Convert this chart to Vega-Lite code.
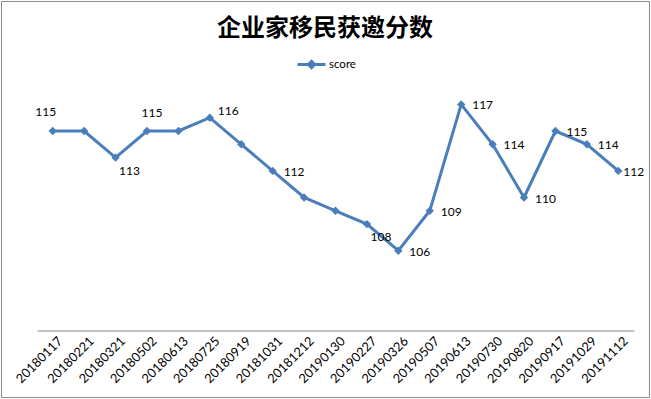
{
  "$schema": "https://vega.github.io/schema/vega-lite/v6.json",
  "autosize": {"type": "none"},
  "padding": {"left": 1, "top": 1, "right": 2, "bottom": 2},
  "width": 648,
  "height": 396,
  "background": "white",
  "config": {"view": {"stroke": "#8c8c8c", "strokeWidth": 1}, "font": "Lato"},
  "title": {"text": "企业家移民获邀分数", "font": "Noto Sans CJK SC", "fontSize": 24, "fontWeight": "bold", "color": "#000000", "anchor": "middle", "frame": "group", "orient": "top", "offset": -40, "baseline": "top"},
  "data": {"values": [
    {"date": "20180117", "score": 115},
    {"date": "20180221", "score": 115},
    {"date": "20180321", "score": 113},
    {"date": "20180502", "score": 115},
    {"date": "20180613", "score": 115},
    {"date": "20180725", "score": 116},
    {"date": "20180919", "score": 114},
    {"date": "20181031", "score": 112},
    {"date": "20181212", "score": 110},
    {"date": "20190130", "score": 109},
    {"date": "20190227", "score": 108},
    {"date": "20190326", "score": 106},
    {"date": "20190507", "score": 109},
    {"date": "20190613", "score": 117},
    {"date": "20190730", "score": 114},
    {"date": "20190820", "score": 110},
    {"date": "20190917", "score": 115},
    {"date": "20191029", "score": 114},
    {"date": "20191112", "score": 112}
  ]},
  "encoding": {
    "x": {"field": "date", "type": "ordinal", "sort": "ascending",
      "scale": {"type": "point", "range": [36, 633], "padding": 0.5},
      "axis": {"title": null, "labelAngle": -45, "ticks": false, "grid": false, "domainColor": "#868686", "domainWidth": 1, "offset": -66.5, "labelFont": "Lato", "labelFontSize": 12.8, "labelColor": "#000000", "labelPadding": 4, "labelOffset": 3}},
    "y": {"field": "score", "type": "quantitative", "scale": {"domain": [100, 120], "range": [329.5, 63.5], "zero": false, "nice": false}, "axis": null}
  },
  "layer": [
    {"mark": {"type": "line", "strokeWidth": 3},
     "encoding": {"color": {"datum": "score", "type": "nominal", "scale": {"range": ["#4a7ebb"]},
       "legend": {"orient": "none", "legendX": 295, "legendY": 48, "title": null, "padding": 0,
         "symbolType": "M-1,0H1M0,-0.22L0.22,0L0,0.22L-0.22,0Z", "symbolSize": 784, "symbolStrokeWidth": 3,
         "symbolFillColor": "#4a7ebb", "symbolStrokeColor": "#4a7ebb",
         "labelFont": "Lato", "labelFontSize": 11.5, "labelColor": "#000000", "labelOffset": 2,
         "encode": {"symbols": {"update": {"fill": {"value": "#4a7ebb"}, "stroke": {"value": "#4a7ebb"}}}}}}}},
    {"mark": {"type": "point", "shape": "diamond", "filled": true, "size": 70, "color": "#4a7ebb", "opacity": 1}},
    {"transform": [{"filter": {"field": "date", "oneOf": ["20181031", "20190326", "20190507", "20190613", "20190730", "20190820", "20190917", "20191029"]}}],
     "mark": {"type": "text", "font": "Lato", "fontSize": 12, "color": "#000000", "align": "left", "baseline": "middle", "dx": 11, "dy": 1},
     "encoding": {"text": {"field": "score", "type": "quantitative"}}},
    {"transform": [{"filter": {"field": "date", "oneOf": ["20180725"]}}],
     "mark": {"type": "text", "font": "Lato", "fontSize": 12, "color": "#000000", "align": "left", "baseline": "middle", "dx": 8, "dy": -7},
     "encoding": {"text": {"field": "score", "type": "quantitative"}}},
    {"transform": [{"filter": {"field": "date", "oneOf": ["20191112"]}}],
     "mark": {"type": "text", "font": "Lato", "fontSize": 12, "color": "#000000", "align": "left", "baseline": "middle", "dx": 5, "dy": 1},
     "encoding": {"text": {"field": "score", "type": "quantitative"}}},
    {"transform": [{"filter": {"field": "date", "oneOf": ["20180321", "20190227"]}}],
     "mark": {"type": "text", "font": "Lato", "fontSize": 12, "color": "#000000", "align": "center", "baseline": "middle", "dx": 14, "dy": 13},
     "encoding": {"text": {"field": "score", "type": "quantitative"}}},
    {"transform": [{"filter": {"field": "date", "oneOf": ["20180117"]}}],
     "mark": {"type": "text", "font": "Lato", "fontSize": 12, "color": "#000000", "align": "center", "baseline": "middle", "dx": -7, "dy": -19},
     "encoding": {"text": {"field": "score", "type": "quantitative"}}},
    {"transform": [{"filter": {"field": "date", "oneOf": ["20180502"]}}],
     "mark": {"type": "text", "font": "Lato", "fontSize": 12, "color": "#000000", "align": "center", "baseline": "middle", "dx": 5, "dy": -18},
     "encoding": {"text": {"field": "score", "type": "quantitative"}}}
  ]
}
